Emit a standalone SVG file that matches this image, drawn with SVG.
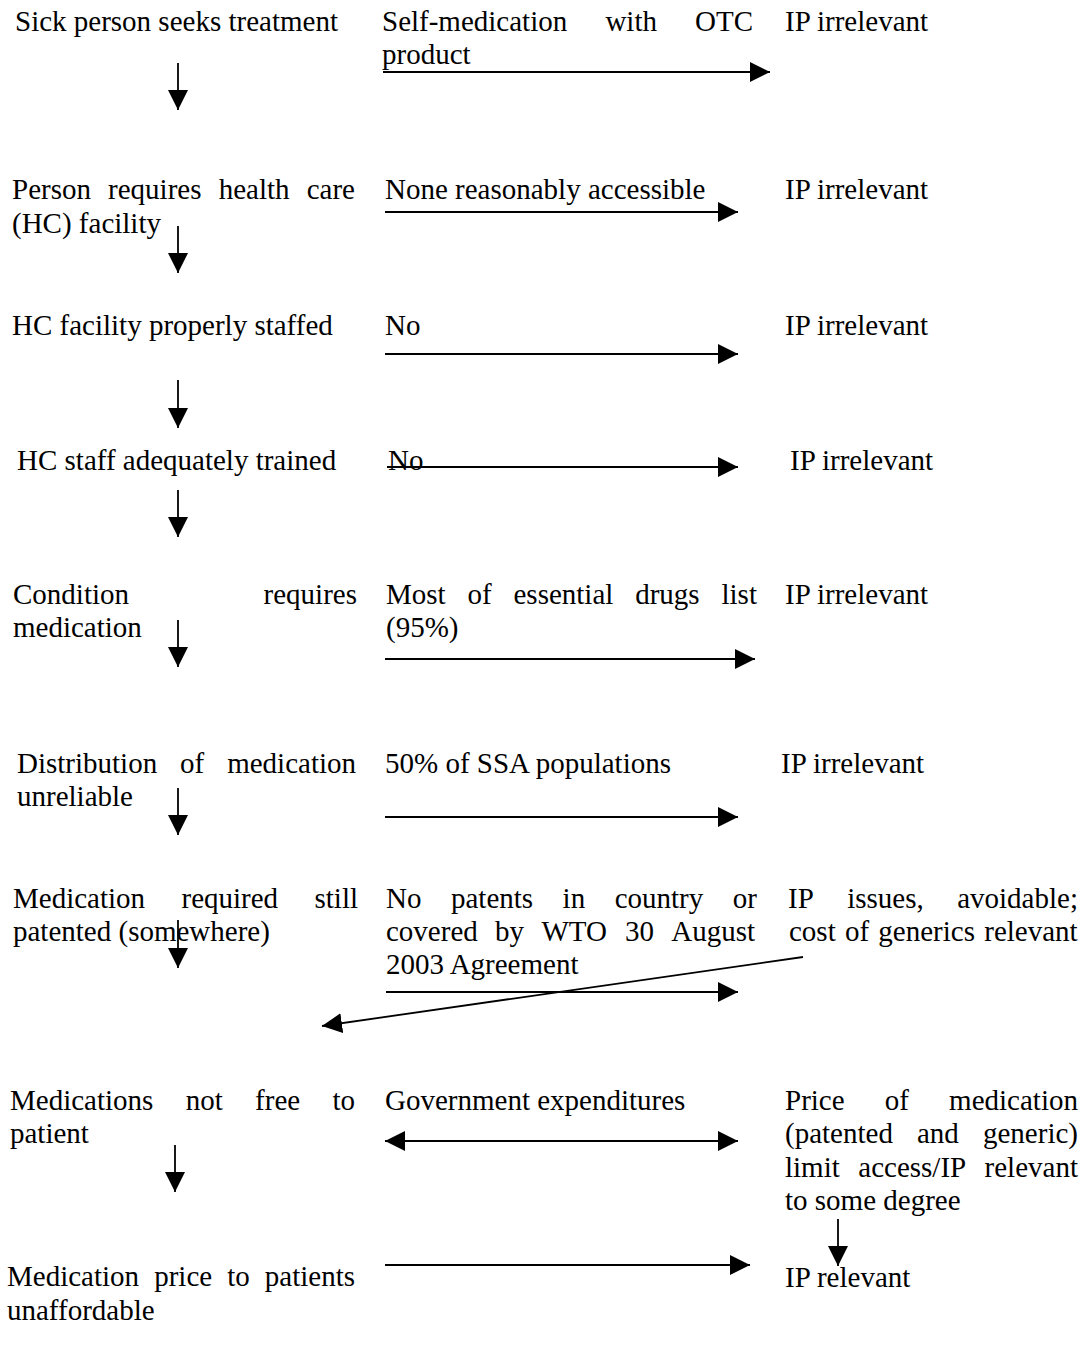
<svg xmlns="http://www.w3.org/2000/svg" width="1086" height="1351" viewBox="0 0 1086 1351">
<style>
.t{font-family:"Liberation Serif","Times New Roman",serif;font-size:29px;fill:#000;}
.c line{stroke:#000;stroke-width:1.8;fill:none;}
.a{marker-end:url(#ah);}
.d{marker-start:url(#ah);marker-end:url(#ah);}
</style>
<defs>
<marker id="ah" markerUnits="userSpaceOnUse" markerWidth="20" markerHeight="20" refX="20" refY="10" orient="auto-start-reverse" viewBox="0 0 20 20">
<path d="M0,0 L20,10 L0,20 Z" fill="#000"/>
</marker>
</defs>
<rect width="1086" height="1351" fill="#fff"/>

<!-- Row 1 -->
<g id="n1a"><text class="t" x="15" y="31">Sick person seeks treatment</text></g>
<g id="n1b"><text class="t" y="31"><tspan x="382">Self-medication</tspan><tspan x="605.4">with</tspan><tspan x="695">OTC</tspan></text><text class="t" x="382" y="64">product</text></g>
<g id="n1c"><text class="t" x="785" y="31">IP irrelevant</text></g>

<!-- Row 2 -->
<g id="n2a"><text class="t" y="199"><tspan x="12">Person</tspan><tspan x="108.1">requires</tspan><tspan x="218.7">health</tspan><tspan x="306.7">care</tspan></text><text class="t" x="12" y="233">(HC) facility</text></g>
<g id="n2b"><text class="t" x="385" y="199">None reasonably accessible</text></g>
<g id="n2c"><text class="t" x="785" y="199">IP irrelevant</text></g>

<!-- Row 3 -->
<g id="n3a"><text class="t" x="12" y="335">HC facility properly staffed</text></g>
<g id="n3b"><text class="t" x="385" y="335">No</text></g>
<g id="n3c"><text class="t" x="785" y="335">IP irrelevant</text></g>

<!-- Row 4 -->
<g id="n4a"><text class="t" x="17" y="470">HC staff adequately trained</text></g>
<g id="n4b"><text class="t" x="388" y="470">No</text></g>
<g id="n4c"><text class="t" x="790" y="470">IP irrelevant</text></g>

<!-- Row 5 -->
<g id="n5a"><text class="t" y="604"><tspan x="13">Condition</tspan><tspan x="263.6">requires</tspan></text><text class="t" x="13" y="637">medication</text></g>
<g id="n5b"><text class="t" y="604"><tspan x="386">Most</tspan><tspan x="467.5">of</tspan><tspan x="513.5">essential</tspan><tspan x="635.2">drugs</tspan><tspan x="721.5">list</tspan></text><text class="t" x="386" y="637">(95%)</text></g>
<g id="n5c"><text class="t" x="785" y="604">IP irrelevant</text></g>

<!-- Row 6 -->
<g id="n6a"><text class="t" y="773"><tspan x="17">Distribution</tspan><tspan x="180.1">of</tspan><tspan x="227.2">medication</tspan></text><text class="t" x="17" y="806">unreliable</text></g>
<g id="n6b"><text class="t" x="385" y="773">50% of SSA populations</text></g>
<g id="n6c"><text class="t" x="781" y="773">IP irrelevant</text></g>

<!-- Row 7 -->
<g id="n7a"><text class="t" y="908"><tspan x="13">Medication</tspan><tspan x="181.5">required</tspan><tspan x="314.5">still</tspan></text><text class="t" x="13" y="941">patented (somewhere)</text></g>
<g id="n7b"><text class="t" y="908"><tspan x="386">No</tspan><tspan x="451">patents</tspan><tspan x="562.6">in</tspan><tspan x="614.7">country</tspan><tspan x="732.8">or</tspan></text><text class="t" y="941"><tspan x="386">covered</tspan><tspan x="495.1">by</tspan><tspan x="541.5">WTO</tspan><tspan x="624.9">30</tspan><tspan x="671.2">August</tspan></text><text class="t" x="386" y="974">2003 Agreement</text></g>
<g id="n7c"><text class="t" y="908"><tspan x="788">IP</tspan><tspan x="847.2">issues,</tspan><tspan x="957.2">avoidable;</tspan></text><text class="t" x="789" y="941" word-spacing="2">cost of generics relevant</text></g>

<!-- Row 8 -->
<g id="n8a"><text class="t" y="1110"><tspan x="10">Medications</tspan><tspan x="185.7">not</tspan><tspan x="255.1">free</tspan><tspan x="332.4">to</tspan></text><text class="t" x="10" y="1143">patient</text></g>
<g id="n8b"><text class="t" x="385" y="1110">Government expenditures</text></g>
<g id="n8c"><text class="t" y="1110"><tspan x="785">Price</tspan><tspan x="884.8">of</tspan><tspan x="949.1">medication</tspan></text><text class="t" y="1143"><tspan x="785">(patented</tspan><tspan x="917">and</tspan><tspan x="983">generic)</tspan></text><text class="t" y="1177"><tspan x="785">limit</tspan><tspan x="858.3">access/IP</tspan><tspan x="984.6">relevant</tspan></text><text class="t" x="785" y="1210">to some degree</text></g>

<!-- Row 9 -->
<g id="n9a"><text class="t" y="1286"><tspan x="7">Medication</tspan><tspan x="154.2">price</tspan><tspan x="227.2">to</tspan><tspan x="264.8">patients</tspan></text><text class="t" x="7" y="1320">unaffordable</text></g>
<g id="n9c"><text class="t" x="785" y="1287">IP relevant</text></g>

<g id="connectors" class="c">
<line class="a" x1="383" y1="72" x2="770" y2="72"/>
<line class="a" x1="385" y1="212" x2="738" y2="212"/>
<line class="a" x1="385" y1="354" x2="738" y2="354"/>
<line class="a" x1="387" y1="467" x2="738" y2="467"/>
<line class="a" x1="385" y1="659" x2="755" y2="659"/>
<line class="a" x1="385" y1="817" x2="738" y2="817"/>
<line class="a" x1="386" y1="992" x2="738" y2="992"/>
<line class="a" x1="803" y1="957" x2="322" y2="1026"/>
<line class="d" x1="385" y1="1141" x2="738" y2="1141"/>
<line class="a" x1="385" y1="1265" x2="750" y2="1265"/>
<line class="a" x1="178" y1="63" x2="178" y2="110"/>
<line class="a" x1="178" y1="226" x2="178" y2="273"/>
<line class="a" x1="178" y1="380" x2="178" y2="428"/>
<line class="a" x1="178" y1="490" x2="178" y2="537"/>
<line class="a" x1="178" y1="620" x2="178" y2="667"/>
<line class="a" x1="178" y1="788" x2="178" y2="835"/>
<line class="a" x1="178" y1="920" x2="178" y2="968"/>
<line class="a" x1="175" y1="1145" x2="175" y2="1192"/>
<line class="a" x1="838" y1="1219" x2="838" y2="1266"/>
</g>
</svg>
